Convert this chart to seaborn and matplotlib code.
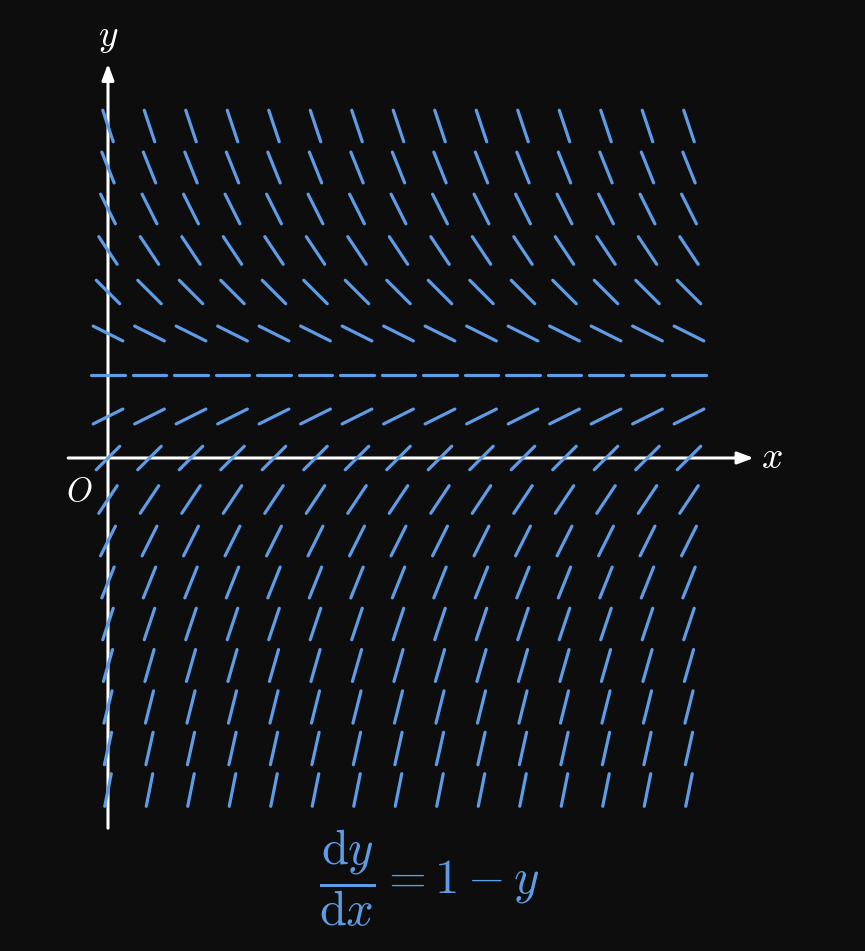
import numpy as np
import pandas as pd
import matplotlib
matplotlib.use("Agg")
import matplotlib.pyplot as plt
import seaborn as sns

sns.set_theme(style="dark")
plt.rcParams["mathtext.fontset"] = "cm"

# Data: slope field dy/dx = 1 - y
x_cols = [0, 0.5, 1, 1.5, 2, 2.5, 3, 3.5, 4, 4.5, 5, 5.5, 6, 6.5, 7]
y_rows = [4, 3.5, 3, 2.5, 2, 1.5, 1, 0.5, 0, -0.5, -1, -1.5, -2, -2.5, -3, -3.5, -4]
slopes = [-3, -2.5, -2, -1.5, -1, -0.5, 0, 0.5, 1, 1.5, 2, 2.5, 3, 3.5, 4, 4.5, 5]

BG = "#0d0d0d"
BLUE = "#5e9ce8"
SEG_LEN = 0.40

rows = []
sid = 0
for yv, m in zip(y_rows, slopes):
    ang = np.arctan(m)
    dx = 0.5 * SEG_LEN * np.cos(ang)
    dy = 0.5 * SEG_LEN * np.sin(ang)
    for xv in x_cols:
        rows.append({"seg": sid, "x": xv - dx, "y": yv - dy})
        rows.append({"seg": sid, "x": xv + dx, "y": yv + dy})
        sid += 1
df = pd.DataFrame(rows)

fig = plt.figure(figsize=(8.65, 9.51), dpi=100, facecolor=BG)
ax = fig.add_axes([0, 0, 1, 1])
ax.set_facecolor(BG)
ax.set_xlim(-108 / 83, (865 - 108) / 83)
ax.set_ylim(-(951 - 458) / 83, 458 / 83)
ax.axis("off")

# axes arrows
ax.annotate("", xy=(7.78, 0), xytext=(-0.48, 0),
            arrowprops=dict(arrowstyle="-|>,head_length=0.8,head_width=0.3",
                            color="white", lw=2.2, shrinkA=0, shrinkB=0), zorder=1)
ax.annotate("", xy=(0, 4.75), xytext=(0, -4.46),
            arrowprops=dict(arrowstyle="-|>,head_length=0.8,head_width=0.3",
                            color="white", lw=2.2, shrinkA=0, shrinkB=0), zorder=1)

sns.lineplot(data=df, x="x", y="y", units="seg", estimator=None, sort=False,
             color=BLUE, lw=2.3, ax=ax, zorder=3, legend=False)
ax.set_xlabel("")
ax.set_ylabel("")

ax.text(8.0, 0.0, r"$x$", color="white", fontsize=27, ha="center", va="center")
ax.text(0.0, 5.07, r"$y$", color="white", fontsize=27, ha="center", va="center")
ax.text(-0.35, -0.40, r"$O$", color="white", fontsize=24, ha="center", va="center")
ax.text(3.87, -5.07, r"$\dfrac{\mathrm{d}y}{\mathrm{d}x}=1-y$", color=BLUE,
        fontsize=35, ha="center", va="center")

fig.savefig("out.png", dpi=100, facecolor=BG)
